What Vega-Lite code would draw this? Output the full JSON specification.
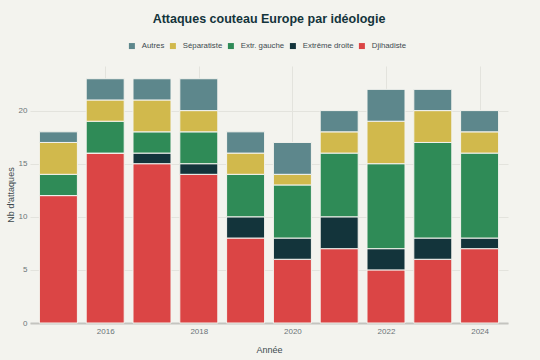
{
  "$schema": "https://vega.github.io/schema/vega-lite/v6.json",
  "width": 540,
  "height": 360,
  "autosize": {"type": "fit", "contains": "padding"},
  "padding": {"left": 6, "right": 32, "top": 12, "bottom": 6},
  "background": "#f3f3ee",
  "title": {
    "text": "Attaques couteau Europe par idéologie",
    "font": "Liberation Sans",
    "fontSize": 12.5,
    "fontWeight": "bold",
    "color": "#13343b",
    "anchor": "middle",
    "offset": 41
  },
  "config": {
    "view": {"stroke": null},
    "font": "Liberation Sans",
    "axis": {
      "labelFont": "Liberation Sans",
      "titleFont": "Liberation Sans",
      "labelFontSize": 8,
      "labelColor": "#6b7478",
      "titleColor": "#3d4a4e",
      "titleFontSize": 9,
      "titleFontWeight": "normal",
      "gridColor": "#e3e3dd",
      "gridWidth": 1,
      "ticks": false
    },
    "legend": {
      "labelFont": "Liberation Sans",
      "labelFontSize": 7.8,
      "labelColor": "#3d4a4e"
    }
  },
  "data": {
    "values": [
      {"annee": 2015, "ideologie": "Djihadiste", "rang": 1, "n": 12},
      {"annee": 2015, "ideologie": "Extrême droite", "rang": 2, "n": 0},
      {"annee": 2015, "ideologie": "Extr. gauche", "rang": 3, "n": 2},
      {"annee": 2015, "ideologie": "Séparatiste", "rang": 4, "n": 3},
      {"annee": 2015, "ideologie": "Autres", "rang": 5, "n": 1},
      {"annee": 2016, "ideologie": "Djihadiste", "rang": 1, "n": 16},
      {"annee": 2016, "ideologie": "Extrême droite", "rang": 2, "n": 0},
      {"annee": 2016, "ideologie": "Extr. gauche", "rang": 3, "n": 3},
      {"annee": 2016, "ideologie": "Séparatiste", "rang": 4, "n": 2},
      {"annee": 2016, "ideologie": "Autres", "rang": 5, "n": 2},
      {"annee": 2017, "ideologie": "Djihadiste", "rang": 1, "n": 15},
      {"annee": 2017, "ideologie": "Extrême droite", "rang": 2, "n": 1},
      {"annee": 2017, "ideologie": "Extr. gauche", "rang": 3, "n": 2},
      {"annee": 2017, "ideologie": "Séparatiste", "rang": 4, "n": 3},
      {"annee": 2017, "ideologie": "Autres", "rang": 5, "n": 2},
      {"annee": 2018, "ideologie": "Djihadiste", "rang": 1, "n": 14},
      {"annee": 2018, "ideologie": "Extrême droite", "rang": 2, "n": 1},
      {"annee": 2018, "ideologie": "Extr. gauche", "rang": 3, "n": 3},
      {"annee": 2018, "ideologie": "Séparatiste", "rang": 4, "n": 2},
      {"annee": 2018, "ideologie": "Autres", "rang": 5, "n": 3},
      {"annee": 2019, "ideologie": "Djihadiste", "rang": 1, "n": 8},
      {"annee": 2019, "ideologie": "Extrême droite", "rang": 2, "n": 2},
      {"annee": 2019, "ideologie": "Extr. gauche", "rang": 3, "n": 4},
      {"annee": 2019, "ideologie": "Séparatiste", "rang": 4, "n": 2},
      {"annee": 2019, "ideologie": "Autres", "rang": 5, "n": 2},
      {"annee": 2020, "ideologie": "Djihadiste", "rang": 1, "n": 6},
      {"annee": 2020, "ideologie": "Extrême droite", "rang": 2, "n": 2},
      {"annee": 2020, "ideologie": "Extr. gauche", "rang": 3, "n": 5},
      {"annee": 2020, "ideologie": "Séparatiste", "rang": 4, "n": 1},
      {"annee": 2020, "ideologie": "Autres", "rang": 5, "n": 3},
      {"annee": 2021, "ideologie": "Djihadiste", "rang": 1, "n": 7},
      {"annee": 2021, "ideologie": "Extrême droite", "rang": 2, "n": 3},
      {"annee": 2021, "ideologie": "Extr. gauche", "rang": 3, "n": 6},
      {"annee": 2021, "ideologie": "Séparatiste", "rang": 4, "n": 2},
      {"annee": 2021, "ideologie": "Autres", "rang": 5, "n": 2},
      {"annee": 2022, "ideologie": "Djihadiste", "rang": 1, "n": 5},
      {"annee": 2022, "ideologie": "Extrême droite", "rang": 2, "n": 2},
      {"annee": 2022, "ideologie": "Extr. gauche", "rang": 3, "n": 8},
      {"annee": 2022, "ideologie": "Séparatiste", "rang": 4, "n": 4},
      {"annee": 2022, "ideologie": "Autres", "rang": 5, "n": 3},
      {"annee": 2023, "ideologie": "Djihadiste", "rang": 1, "n": 6},
      {"annee": 2023, "ideologie": "Extrême droite", "rang": 2, "n": 2},
      {"annee": 2023, "ideologie": "Extr. gauche", "rang": 3, "n": 9},
      {"annee": 2023, "ideologie": "Séparatiste", "rang": 4, "n": 3},
      {"annee": 2023, "ideologie": "Autres", "rang": 5, "n": 2},
      {"annee": 2024, "ideologie": "Djihadiste", "rang": 1, "n": 7},
      {"annee": 2024, "ideologie": "Extrême droite", "rang": 2, "n": 1},
      {"annee": 2024, "ideologie": "Extr. gauche", "rang": 3, "n": 8},
      {"annee": 2024, "ideologie": "Séparatiste", "rang": 4, "n": 2},
      {"annee": 2024, "ideologie": "Autres", "rang": 5, "n": 2}
    ]
  },
  "mark": {"type": "bar", "width": 38, "stroke": "#f3f3ee", "strokeWidth": 1},
  "encoding": {
    "x": {
      "field": "annee",
      "type": "quantitative",
      "title": "Année",
      "scale": {"domain": [2014.5, 2024.5], "nice": false, "zero": false},
      "axis": {
        "values": [2016, 2018, 2020, 2022, 2024],
        "format": "d",
        "domainColor": "#c4c4bf",
        "domainWidth": 2,
        "labelPadding": 4,
        "titlePadding": 10
      }
    },
    "y": {
      "field": "n",
      "type": "quantitative",
      "aggregate": "sum",
      "stack": "zero",
      "title": "Nb d'attaques",
      "scale": {"domain": [0, 24.2], "nice": false},
      "axis": {
        "values": [0, 5, 10, 15, 20],
        "domain": false,
        "labelPadding": 3,
        "titlePadding": 3
      }
    },
    "color": {
      "field": "ideologie",
      "type": "nominal",
      "scale": {
        "domain": ["Autres", "Séparatiste", "Extr. gauche", "Extrême droite", "Djihadiste"],
        "range": ["#5d878c", "#d1b94c", "#2f8b57", "#13343b", "#db4545"]
      },
      "legend": {
        "title": null,
        "orient": "none",
        "legendX": 98,
        "legendY": -24,
        "direction": "horizontal",
        "symbolType": "square",
        "symbolSize": 36,
        "symbolStrokeWidth": 0,
        "labelOffset": 6,
        "columnPadding": 4
      }
    },
    "order": {"field": "rang", "type": "quantitative", "sort": "ascending"}
  }
}
